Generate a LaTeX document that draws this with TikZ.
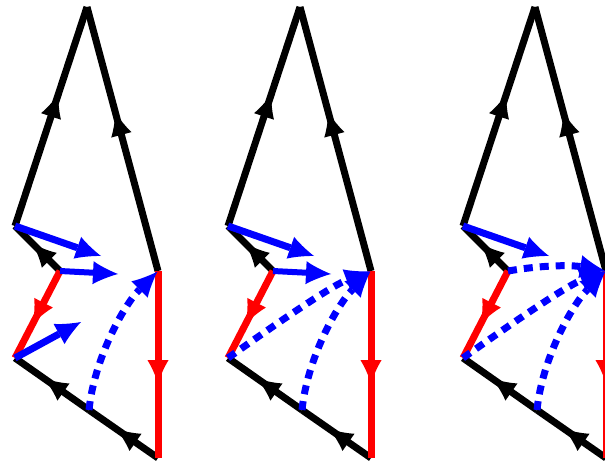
\documentclass[tikz,border=0pt]{standalone}
\usetikzlibrary{arrows.meta,decorations.markings}
\begin{document}
\begin{tikzpicture}[x=1pt,y=-1pt,
  edge/.style={line width=7pt, postaction={decorate},
    decoration={markings, mark=at position 0.6 with {\arrow{Latex[length=23pt,width=21pt,line width=0pt]}}}},
  blk/.style={edge,draw=black,fill=black},
  rd/.style={edge,draw=red,fill=red},
  bvec/.style={draw=blue,line width=7pt,-{Latex[length=25pt,width=23pt,line width=0pt]}},
  bdash/.style={bvec,dash pattern=on 9pt off 7pt, shorten >=1pt},
]
\useasboundingbox (0,0) rectangle (605,465);
\clip (0,0) rectangle (605,465);
\foreach \o/\k in {0/1,213/2,448/3}{
  \coordinate (T\k) at ({\o+87},7);
  \coordinate (A\k) at ({\o+15},226);
  \coordinate (B\k) at ({\o+60},271);
  \coordinate (C\k) at ({\o+15},358);
  \coordinate (D\k) at ({\o+158},458);
  \coordinate (E\k) at ({\o+158},271);
  \coordinate (P\k) at ({\o+89},410);
  \coordinate (VA\k) at ({\o+101},256);
  \coordinate (VB\k) at ({\o+118},274);
  \coordinate (VC\k) at ({\o+81},322);
  \draw[blk] (A\k) -- (T\k);
  \draw[blk] (E\k) -- (T\k);
  \draw[blk] (B\k) -- (A\k);
  \draw[blk] (D\k) -- (P\k);
  \draw[blk] (P\k) -- (C\k);
  \draw[rd] (B\k) -- (C\k);
  \draw[rd] (E\k) -- (D\k);
  \draw[bvec] (A\k) -- (VA\k);
  \draw[bdash] (P\k) .. controls +(5,-50) and +(-35,35) .. (E\k);
}
\draw[bvec,line width=6pt] (B1) -- (VB1);
\draw[bvec] (C1) -- (VC1);
\draw[bvec,line width=6pt] (B2) -- (VB2);
\draw[bdash] (C2) .. controls +(45,-32) and +(-40,15) .. (E2);
\draw[bdash] (C3) .. controls +(45,-32) and +(-40,15) .. (E3);
\draw[bdash] (B3) .. controls +(35,-6) and +(-35,-6) .. (E3);
\end{tikzpicture}
\end{document}
